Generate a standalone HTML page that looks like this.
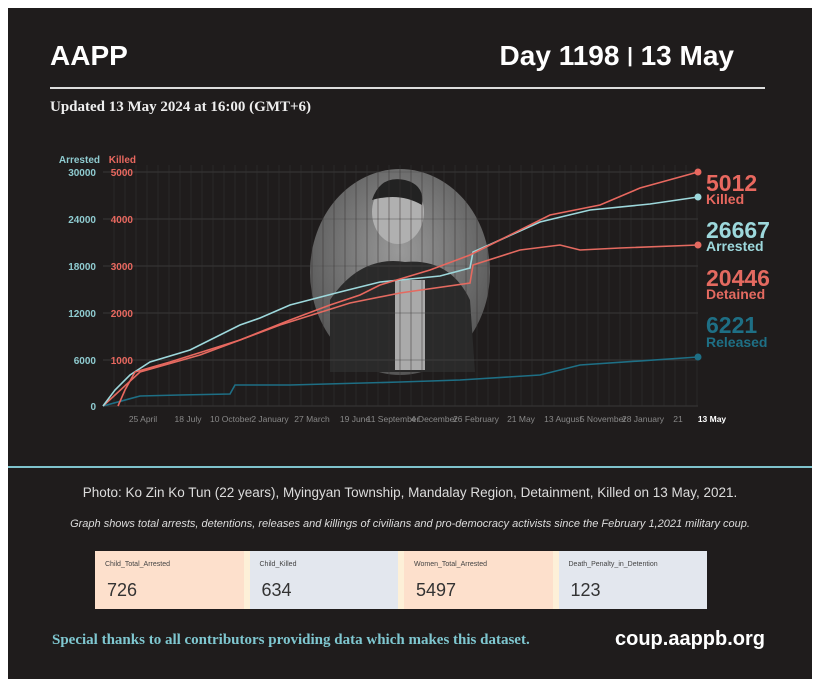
<!DOCTYPE html>
<html><head><meta charset="utf-8"><style>
body{margin:0;width:820px;height:687px;background:#fff;overflow:hidden;font-family:"Liberation Sans",sans-serif}
#p{position:absolute;left:8px;top:8px;width:804px;height:671px;background:#1f1c1c}
.t{position:absolute;white-space:nowrap}
</style></head><body>
<div id="p"></div>
<div class="t" style="left:50px;top:40px;color:#fff;font-weight:bold;font-size:28px">AAPP</div>
<div class="t" style="right:86px;top:40px;color:#fff;font-weight:bold;font-size:28px">Day 1198 <span style="font-size:20px;position:relative;top:-3px">|</span> 13 May</div>
<div style="position:absolute;left:50px;top:87px;width:715px;height:2px;background:#ddd"></div>
<div class="t" style="left:50px;top:99px;color:#eee;font-weight:bold;font-size:15px;font-family:'Liberation Serif',serif">Updated 13 May 2024 at 16:00 (GMT+6)</div>
<svg style="position:absolute;left:0;top:0" width="820" height="687">
<defs><radialGradient id="g" cx="0.5" cy="0.4" r="0.6"><stop offset="0" stop-color="#9a9a9a"/><stop offset="1" stop-color="#555"/></radialGradient></defs>
<ellipse cx="400" cy="272" rx="90" ry="103" fill="url(#g)"/>
<path d="M330 300 Q360 255 405 262 Q450 258 470 300 L475 372 L330 372 Z" fill="#2a2a2a"/>
<ellipse cx="398" cy="212" rx="26" ry="32" fill="#b0b0b0"/>
<path d="M372 200 Q380 175 405 180 Q425 185 422 205 Q400 192 372 200Z" fill="#222"/>
<rect x="395" y="280" width="30" height="90" fill="#aaa"/>
<g stroke="#555" stroke-width="0.6">
<line x1="103" y1="172" x2="698" y2="172"/><line x1="103" y1="219" x2="698" y2="219"/><line x1="103" y1="266" x2="698" y2="266"/><line x1="103" y1="313" x2="698" y2="313"/><line x1="103" y1="360" x2="698" y2="360"/><line x1="103" y1="406" x2="698" y2="406"/>
</g>
<g stroke="#363232" stroke-width="0.5" id="v"></g>
<g fill="none" stroke-width="1.6">
<polyline stroke="#1e6f85" points="103,406 140,396 180,395 230,394 235,385 290,385 400,382 460,380 540,375 580,365 698,357"/>
<polyline stroke="#e46a60" points="103,406 115,395 140,372 200,355 280,325 350,303 400,293 470,283 473,265 520,250 560,245 580,250 620,248 698,245"/>
<polyline stroke="#9dd8dc" points="103,406 115,390 130,375 150,362 190,350 240,325 260,318 290,305 340,292 380,282 440,276 470,268 473,252 500,240 540,222 590,210 650,204 698,197"/>
<polyline stroke="#e8685f" points="118,406 125,390 135,372 170,362 240,340 290,320 330,305 360,295 380,285 430,270 470,255 500,240 550,215 600,205 640,188 698,172"/>
</g>
<circle cx="698" cy="172" r="3.5" fill="#e8685f"/><circle cx="698" cy="197" r="3.5" fill="#9dd8dc"/><circle cx="698" cy="245" r="3.5" fill="#e46a60"/><circle cx="698" cy="357" r="3.5" fill="#1e6f85"/>
<g font-size="10" font-weight="bold" text-anchor="end">
<text x="100" y="163" fill="#8fcbd0">Arrested</text>
<text x="136" y="163" fill="#e8685f">Killed</text>
<g fill="#8fcbd0"><text x="96" y="176">30000</text><text x="96" y="223">24000</text><text x="96" y="270">18000</text><text x="96" y="317">12000</text><text x="96" y="364">6000</text><text x="96" y="410">0</text></g>
<g fill="#e8685f"><text x="133" y="176">5000</text><text x="133" y="223">4000</text><text x="133" y="270">3000</text><text x="133" y="317">2000</text><text x="133" y="364">1000</text></g>
</g>
<g font-size="8.5" fill="#888" text-anchor="middle">
<text x="143" y="422">25 April</text><text x="188" y="422">18 July</text><text x="231" y="422">10 October</text><text x="270" y="422">2 January</text><text x="312" y="422">27 March</text><text x="355" y="422">19 June</text><text x="393" y="422">11 September</text><text x="434" y="422">4 December</text><text x="476" y="422">26 February</text><text x="521" y="422">21 May</text><text x="563" y="422">13 August</text><text x="603" y="422">5 November</text><text x="643" y="422">28 January</text><text x="678" y="422">21</text>
<text x="712" y="422" fill="#fff" font-weight="bold">13 May</text></g>
<g font-weight="bold">
<text x="706" y="191" font-size="23" fill="#e8685f">5012</text><text x="706" y="204" font-size="14" fill="#e8685f">Killed</text>
<text x="706" y="238" font-size="23" fill="#9dd8dc">26667</text><text x="706" y="251" font-size="14" fill="#9dd8dc">Arrested</text>
<text x="706" y="286" font-size="23" fill="#e46a60">20446</text><text x="706" y="299" font-size="14" fill="#e46a60">Detained</text>
<text x="706" y="333" font-size="23" fill="#1e6f85">6221</text><text x="706" y="347" font-size="14" fill="#1e6f85">Released</text>
</g>
<line x1="8" y1="467" x2="812" y2="467" stroke="#7fc3cc" stroke-width="2"/>
</svg>
<script>
var g=document.getElementById('v'),s='';for(var x=114;x<698;x+=11)s+='<line x1="'+x+'" y1="165" x2="'+x+'" y2="406"/>';g.innerHTML=s;
</script>
<div class="t" style="left:0;width:820px;text-align:center;top:485px;color:#ddd;font-size:13.5px">Photo: Ko Zin Ko Tun (22 years), Myingyan Township, Mandalay Region, Detainment, Killed on 13 May, 2021.</div>
<div class="t" style="left:0;width:820px;text-align:center;top:518px;color:#ddd;font-size:11px;font-style:italic">Graph shows total arrests, detentions, releases and killings of civilians and pro-democracy activists since the February 1,2021 military coup.</div>
<div style="position:absolute;left:95px;top:551px;width:612px;height:58px;background:#fdf0d8;display:flex">
<div style="flex:1;background:#fde0cc;position:relative;margin-right:6px"><span class="t" style="left:10px;top:10px;font-size:7px;color:#444">Child_Total_Arrested</span><span class="t" style="left:12px;top:29px;font-size:18px;color:#333">726</span></div>
<div style="flex:1;background:#e3e7ee;position:relative;margin-right:6px"><span class="t" style="left:10px;top:10px;font-size:7px;color:#444">Child_Killed</span><span class="t" style="left:12px;top:29px;font-size:18px;color:#333">634</span></div>
<div style="flex:1;background:#fde0cc;position:relative;margin-right:6px"><span class="t" style="left:10px;top:10px;font-size:7px;color:#444">Women_Total_Arrested</span><span class="t" style="left:12px;top:29px;font-size:18px;color:#333">5497</span></div>
<div style="flex:1;background:#e3e7ee;position:relative"><span class="t" style="left:10px;top:10px;font-size:7px;color:#444">Death_Penalty_in_Detention</span><span class="t" style="left:12px;top:29px;font-size:18px;color:#333">123</span></div>
</div>
<div class="t" style="left:52px;top:632px;color:#7fc7d0;font-weight:bold;font-size:15px;font-family:'Liberation Serif',serif">Special thanks to all contributors providing data which makes this dataset.</div>
<div class="t" style="right:55px;top:628px;color:#fff;font-weight:bold;font-size:20px">coup.aappb.org</div>
</body></html>
